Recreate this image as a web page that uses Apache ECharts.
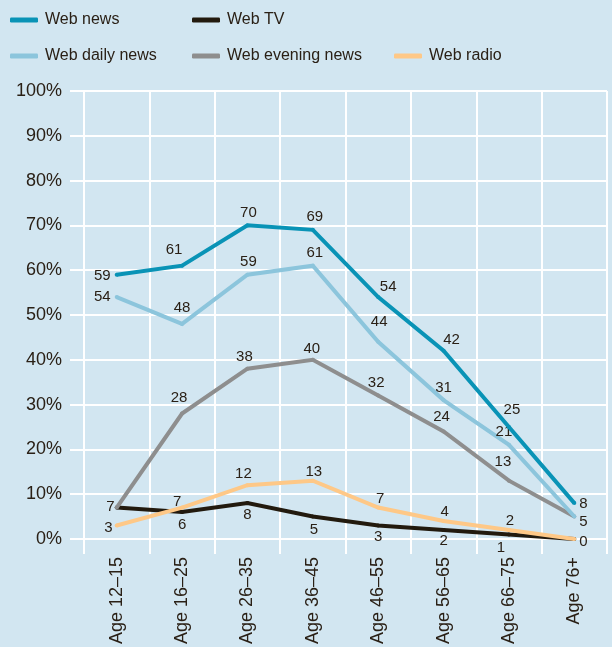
<!DOCTYPE html>
<html>
<head>
<meta charset="utf-8">
<script src="https://cdn.jsdelivr.net/npm/echarts@6/dist/echarts.min.js"></script>
<style>
  html, body { margin: 0; padding: 0; background: #d2e6f1; }
  #chart { width: 612px; height: 647px; }
</style>
</head>
<body>
<div id="chart"></div>
<script>
// Age groups and share of users (%) per web service
const categories = ['Age 12–15', 'Age 16–25', 'Age 26–35', 'Age 36–45', 'Age 46–55', 'Age 56–65', 'Age 66–75', 'Age 76+'];
const webNews = [59, 61, 70, 69, 54, 42, 25, 8];
const webDailyNews = [54, 48, 59, 61, 44, 31, 21, 5];
const webEveningNews = [7, 28, 38, 40, 32, 24, 13, 5];
const webRadio = [3, 7, 12, 13, 7, 4, 2, 0];
const webTV = [7, 6, 8, 5, 3, 2, 1, 0];
const yTicks = [0, 10, 20, 30, 40, 50, 60, 70, 80, 90, 100];

const textColor = '#2a2016';
const fontFamily = '"Liberation Sans", Arial, sans-serif';

// label placement per point: [position, dx, dy] or null to hide
const place = {
  news:    [['left',2,1], ['top',-8,0], ['top',1,3], ['top',2,3], ['top',10,5], ['top',8,5], ['top',3,-2], ['right',-3,1]],
  daily:   [['left',2,0], ['top',0,-1], ['top',1,3], ['top',2,3], ['top',1,-4], ['top',0,3], ['top',-5,3], ['right',-3,5]],
  evening: [['left',6,-1], ['top',-3,0], ['top',-3,4], ['top',-1,5], ['top',-2,3], ['top',-2,1], ['top',-6,-3], null],
  radio:   [['left',4,2], ['top',-5,10], ['top',-4,4], ['top',1,7], ['top',2,7], ['top',1,6], ['top',1,6], ['right',-3,3]],
  tv:      [null, ['bottom',0,-3], ['bottom',0,-4], ['bottom',1,-2], ['bottom',0,-4], ['bottom',0,-5], ['bottom',-8,-2], null]
};

function buildData(values, placements) {
  return values.map((v, i) => {
    const p = placements[i];
    if (!p) return { value: v, label: { show: false } };
    return { value: v, label: { show: true, position: p[0] } };
  });
}

function lineSeries(name, values, color, placements, z) {
  return {
    name: name,
    type: 'line',
    data: buildData(values, placements),
    symbol: 'circle',
    symbolSize: 4,
    showSymbol: true,
    z: z,
    lineStyle: { color: color, width: 4, join: 'miter' },
    itemStyle: { color: color },
    label: { show: true, color: textColor, fontSize: 15, fontFamily: fontFamily, distance: 6 },
    labelLayout: function (params) {
      const p = placements[params.dataIndex];
      return p ? { dx: p[1], dy: p[2], hideOverlap: false } : {};
    },
    emphasis: { disabled: true }
  };
}

function legendAt(name, left, top) {
  return {
    data: [name],
    left: left,
    top: top,
    padding: 0,
    icon: 'roundRect',
    itemWidth: 28,
    itemHeight: 5,
    selectedMode: false,
    textStyle: { color: textColor, fontSize: 16, fontFamily: fontFamily, padding: [0, 0, 0, 2] }
  };
}

const chart = echarts.init(document.getElementById('chart'), null, { renderer: 'canvas' });
chart.setOption({
  backgroundColor: '#d2e6f1',
  animation: false,
  legend: [
    legendAt('Web news', 10, 12),
    legendAt('Web TV', 192, 12),
    legendAt('Web daily news', 10, 48),
    legendAt('Web evening news', 192, 48),
    legendAt('Web radio', 394, 48)
  ],
  grid: { left: 84, right: 5, top: 91, bottom: 108, containLabel: false },
  xAxis: {
    type: 'category',
    data: categories,
    boundaryGap: true,
    axisLine: { show: false },
    axisTick: { show: true, alignWithLabel: false, length: 15, lineStyle: { color: '#ffffff', width: 2 } },
    splitLine: { show: true, lineStyle: { color: '#ffffff', width: 2 } },
    axisLabel: { rotate: 90, margin: 18, color: textColor, fontSize: 18, fontFamily: fontFamily, interval: 0 }
  },
  yAxis: {
    type: 'value',
    min: yTicks[0],
    max: yTicks[yTicks.length - 1],
    interval: 10,
    axisLine: { show: false },
    axisTick: { show: true, length: 14, lineStyle: { color: '#ffffff', width: 2 } },
    splitLine: { show: true, lineStyle: { color: '#ffffff', width: 2 } },
    axisLabel: { margin: 22, color: textColor, fontSize: 18, fontFamily: fontFamily, formatter: v => v + '%' }
  },
  series: [
    lineSeries('Web TV', webTV, '#221a0e', place.tv, 2),
    lineSeries('Web evening news', webEveningNews, '#8e8e8e', place.evening, 3),
    lineSeries('Web radio', webRadio, '#fec887', place.radio, 4),
    lineSeries('Web daily news', webDailyNews, '#8cc5dc', place.daily, 5),
    lineSeries('Web news', webNews, '#0993b6', place.news, 6)
  ]
});
</script>
</body>
</html>
